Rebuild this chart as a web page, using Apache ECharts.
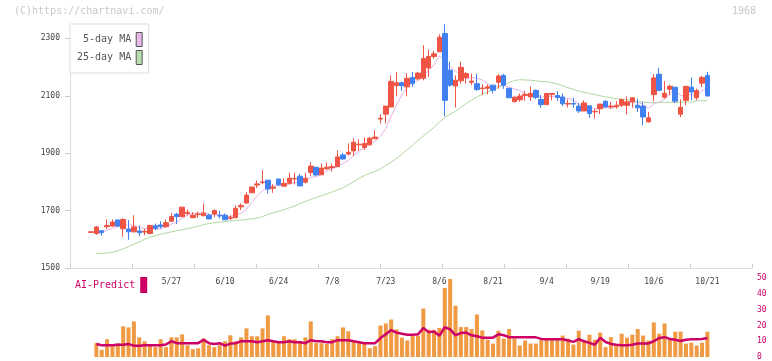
<!DOCTYPE html>
<html><head><meta charset="utf-8">
<script src="https://cdn.jsdelivr.net/npm/echarts@6/dist/echarts.min.js"></script>
<style>html,body{margin:0;padding:0;background:#fff}#c{width:772px;height:361px}</style>
</head><body><div id="c"></div>
<script>
const dates = ['5/2','5/7','5/8','5/9','5/12','5/13','5/14','5/15','5/16','5/19','5/20','5/21','5/22','5/23','5/26',
'5/27','5/28','5/29','5/30','6/2','6/3','6/4','6/5','6/6','6/9','6/10','6/11','6/12','6/13','6/16','6/17','6/18','6/19','6/20','6/23',
'6/24','6/25','6/26','6/27','6/30','7/1','7/2','7/3','7/4','7/7','7/8','7/9','7/10','7/11','7/14','7/15','7/16','7/17','7/18','7/22',
'7/23','7/24','7/25','7/28','7/29','7/30','7/31','8/1','8/4','8/5','8/6','8/7','8/8','8/12','8/13','8/14','8/15','8/18','8/19','8/20',
'8/21','8/22','8/25','8/26','8/27','8/28','8/29','9/1','9/2','9/3','9/4','9/5','9/8','9/9','9/10','9/11','9/12','9/16','9/17','9/18',
'9/19','9/22','9/24','9/25','9/26','9/29','9/30','10/1','10/2','10/3','10/6','10/7','10/8','10/9','10/10','10/14','10/15','10/16','10/17','10/20','10/21'];
const opens = [1624,1620,1630,1644,1646,1667,1637,1636,1626,1629,1625,1620,1647,1650,1644,1663,1687,1679,1690,1675,1686,1682,1684,1688,1683,1684,1673,1675,1713,1726,
1762,1789,1798,1806,1778,1810,1785,1795,1810,1820,1799,1833,1851,1825,1846,1850,1853,1894,1897,1908,1929,1920,1929,1950,2019,2036,2061,2135,2145,2131,
2164,2159,2161,2197,2237,2253,2317,2189,2134,2152,2163,2147,2142,2125,2126,2137,2147,2171,2126,2079,2086,2101,2096,2119,2087,2069,2104,2101,2096,2071,
2073,2064,2047,2065,2044,2055,2081,2061,2062,2067,2067,2079,2067,2064,2009,2104,2175,2095,2123,2130,2036,2084,2130,2093,2144,2171];
const closes = [1626,1643,1623,1648,1660,1646,1669,1626,1643,1623,1628,1648,1638,1644,1658,1679,1679,1712,1694,1684,1688,1691,1671,1700,1681,1668,1677,1708,1718,1754,
1782,1793,1800,1775,1782,1790,1795,1813,1812,1786,1813,1855,1824,1848,1851,1853,1887,1880,1903,1938,1931,1934,1952,1956,2022,2064,2150,2145,2135,2161,
2142,2179,2230,2237,2246,2304,2084,2137,2154,2199,2177,2151,2122,2127,2131,2119,2169,2137,2093,2095,2099,2105,2108,2094,2069,2108,2108,2094,2072,2073,
2071,2047,2075,2038,2046,2071,2061,2064,2067,2087,2079,2093,2058,2026,2023,2162,2119,2109,2133,2081,2060,2133,2113,2118,2164,2099];
const lows = [1622,1616,1612,1636,1644,1644,1609,1598,1624,1611,1614,1618,1632,1637,1641,1661,1653,1678,1683,1675,1675,1682,1670,1677,1672,1668,1667,1675,1702,1726,
1762,1778,1792,1760,1762,1785,1783,1792,1791,1786,1795,1821,1821,1825,1841,1836,1853,1876,1892,1890,1908,1911,1927,1950,2003,2003,2061,2098,2117,2098,
2131,2154,2154,2166,2229,2253,2029,2131,2059,2142,2142,2137,2117,2102,2105,2108,2125,2124,2093,2079,2079,2082,2082,2089,2058,2068,2084,2082,2064,2059,
2058,2040,2047,2023,2021,2036,2059,2055,2055,2061,2035,2058,2044,1997,2007,2081,2116,2090,2102,2075,2026,2067,2084,2084,2130,2099];
const highs = [1628,1646,1632,1669,1669,1669,1674,1667,1684,1648,1637,1651,1655,1663,1669,1692,1692,1712,1704,1695,1696,1724,1689,1704,1699,1690,1684,1718,1725,1764,
1782,1805,1841,1806,1792,1810,1812,1832,1832,1828,1832,1870,1851,1864,1868,1864,1910,1901,1934,1952,1948,1955,1957,1980,2036,2064,2171,2182,2150,2179,
2182,2182,2276,2261,2257,2314,2349,2219,2171,2219,2183,2177,2177,2140,2140,2137,2175,2177,2126,2098,2108,2117,2133,2122,2103,2108,2110,2116,2108,2087,
2093,2075,2084,2065,2055,2071,2084,2079,2081,2090,2098,2095,2090,2079,2044,2176,2197,2151,2139,2130,2088,2133,2164,2125,2169,2183];
const ma5 = [null,1618,1625,1631,1638,1644,1649,1650,1649,1641,1638,1634,1636,1636,1643,1653,1660,1674,1684,1690,1691,1694,1686,1687,1686,1682,1679,1687,1690,1705,
1728,1751,1769,1781,1786,1788,1788,1791,1798,1799,1804,1816,1818,1825,1838,1846,1853,1864,1875,1892,1908,1917,1932,1942,1959,1986,2029,2067,2103,2131,
2147,2152,2169,2190,2207,2239,2220,2202,2185,2176,2158,2164,2161,2155,2142,2130,2134,2137,2130,2123,2119,2106,2100,2100,2095,2097,2097,2095,2090,2091,
2084,2071,2068,2061,2055,2055,2058,2056,2062,2070,2072,2078,2077,2069,2056,2072,2078,2088,2109,2121,2100,2103,2104,2101,2118,2125];
const ma25 = [null,1551,1551,1552,1555,1560,1567,1574,1583,1591,1600,1607,1612,1618,1622,1626,1630,1633,1637,1641,1646,1651,1655,1658,1660,1662,1664,1666,1667,1669,
1671,1674,1679,1687,1692,1698,1703,1710,1716,1725,1732,1739,1746,1752,1758,1765,1772,1779,1790,1800,1812,1822,1830,1836,1845,1857,1868,1882,1897,1912,
1928,1945,1960,1975,1990,2008,2024,2036,2046,2060,2073,2085,2096,2105,2113,2121,2129,2137,2146,2153,2156,2155,2154,2152,2150,2149,2146,2141,2135,2128,
2122,2116,2112,2108,2104,2100,2096,2093,2090,2088,2086,2083,2080,2078,2076,2076,2077,2077,2077,2077,2077,2078,2078,2082,2083,2083];
const volume = [null,8.8,4.6,11.3,7.5,8.8,19.5,18.8,22.6,12.5,10,7.5,6.3,11.3,6.3,12.5,12.5,14.4,7.5,5,5.6,11.9,7.5,6.3,7.5,10,13.8,10,12.5,18.2,
13.2,13.2,18.2,26.4,10,10,13.2,11.3,11.3,10,12.5,22.6,8.8,8.8,8.2,11.3,13.2,18.8,16.3,10.7,8.8,8.8,5.6,6.9,20,21.3,23.8,17.5,12.3,10.5,
13.6,13.6,30.8,17.3,17,18.5,43.9,49.6,32.6,19,19,17.8,27,16.9,11,8.5,16.7,11.7,17.8,11.7,7.3,10.5,8.5,8.5,11,11.7,11.7,11,13.6,11.7,
7.9,16.7,10.5,14.2,11,15.5,6.3,12.6,7.9,14.8,12.3,14.2,17.8,13.6,10.5,22,14.8,21.3,11.7,16.1,16.1,8.5,9.1,7.3,9.1,16.1];
const aiPredict = [null,8.2,7.5,7.5,7.5,7.8,7.8,8.2,7.2,7.2,7.5,7.5,7.5,7.5,8,10,8.8,8.8,8.8,8.8,8.8,11,8.8,8.2,8.8,7.2,8.5,8.8,10,10,
10,9.4,10,10.7,10,9.4,9.4,10,9.4,9.4,8.8,10.7,10,10,9.4,9.4,10.7,10.7,10.7,10,9.4,8.8,8.8,8.8,12,14.5,17.1,15.5,14.8,14.2,
14.2,14.4,18.4,15.8,16.2,13.5,18.9,17.5,13.8,15.2,15.5,13.8,13.2,12.3,12.3,12.3,14.4,13.8,12.6,12.6,12.5,12.5,12.5,12.5,11.5,11.3,11.3,11.3,11.3,10.5,
9.6,11.3,10,9,7.8,12.3,9.5,8.3,7.8,7.5,7.5,7.8,8.6,8.6,8.6,10,12.1,12.6,11.5,11,10.2,11,11.3,11.3,11.5,12.1];
const priceTicks = [1500,1700,1900,2100,2300];
const labelIdx = [15,25,35,45,55,65,75,85,95,105,115];

const FONT = 'DejaVu Sans Mono';
const pairs = arr => arr.map((v, i) => [i, v]).filter(p => p[1] !== null);
const candles = dates.map((d, i) => [i, opens[i], closes[i], lows[i], highs[i]]);
const X_MIN = -3.92, X_MAX = 123.32;

const chart = echarts.init(document.getElementById('c'), null, {renderer: 'canvas'});
chart.setOption({
  animation: false,
  backgroundColor: '#fff',
  title: [
    {text: '(C)https://chartnavi.com/', left: 14, top: 6, padding: 0,
     textStyle: {fontFamily: FONT, fontSize: 10, fontWeight: 'normal', color: '#c8c8c8'}},
    {text: '1968', right: 16, top: 6, padding: 0,
     textStyle: {fontFamily: FONT, fontSize: 10, fontWeight: 'normal', color: '#c8c8c8'}}
  ],
  legend: [
    {orient: 'vertical', left: 70, top: 24, align: 'right', icon: 'rect',
     itemWidth: 6, itemHeight: 14, itemGap: 3, padding: [8, 6, 8, 7],
     backgroundColor: '#fff', borderColor: '#ddd', borderWidth: 1, selectedMode: false,
     formatter: n => n.padStart(9, ' '),
     textStyle: {fontFamily: FONT, fontSize: 10, color: '#555'},
     data: [
       {name: '5-day MA', itemStyle: {color: '#e8b8e8', borderColor: '#555', borderWidth: 1}},
       {name: '25-day MA', itemStyle: {color: '#b8dcb0', borderColor: '#555', borderWidth: 1}}
     ]},
    {orient: 'horizontal', left: 75, top: 277, align: 'right', icon: 'rect',
     itemWidth: 7, itemHeight: 16, padding: 0, selectedMode: false,
     textStyle: {fontFamily: FONT, fontSize: 10, color: '#cc0066'},
     data: [{name: 'AI-Predict', itemStyle: {color: '#cc0066'}}]}
  ],
  grid: [
    {left: 70, right: 20, top: 24, bottom: 93},
    {left: 70, right: 20, top: 278.3, bottom: 3}
  ],
  xAxis: [
    {gridIndex: 0, type: 'value', min: X_MIN, max: X_MAX, position: 'top', show: false},
    {gridIndex: 0, type: 'value', min: 0, max: 11, interval: 1, position: 'bottom',
     axisLine: {onZero: false, lineStyle: {color: '#ddd', width: 1}},
     axisTick: {show: true, inside: true, length: 4, lineStyle: {color: '#ccc'}},
     axisLabel: {show: false}, splitLine: {show: false}},
    {gridIndex: 1, type: 'value', min: X_MIN, max: X_MAX, position: 'top', offset: -10,
     axisLine: {show: false, onZero: false}, axisTick: {show: false}, splitLine: {show: false},
     axisLabel: {show: true, customValues: labelIdx, margin: 2, formatter: v => dates[Math.round(v)] || '',
       fontFamily: FONT, fontSize: 8, color: '#444', showMinLabel: true, showMaxLabel: true}}
  ],
  yAxis: [
    {gridIndex: 0, type: 'value', min: 1500, max: 2350, position: 'left',
     axisLine: {show: true, onZero: false, lineStyle: {color: '#ddd', width: 1}},
     axisTick: {show: true, length: 5, customValues: priceTicks, lineStyle: {color: '#ccc'}},
     axisLabel: {customValues: priceTicks, margin: 10, formatter: v => String(v),
       fontFamily: FONT, fontSize: 8, color: '#444'},
     splitLine: {show: false}},
    {gridIndex: 1, type: 'value', min: 0, max: 50, interval: 10, position: 'right',
     axisLine: {show: false, onZero: false}, axisTick: {show: false}, splitLine: {show: false},
     axisLabel: {margin: 5, formatter: v => String(v), fontFamily: FONT, fontSize: 8, color: '#cc0066'}}
  ],
  series: [
    {name: '5-day MA', type: 'line', xAxisIndex: 0, yAxisIndex: 0, data: pairs(ma5),
     showSymbol: false, lineStyle: {color: '#e6b0e6', width: 1}, itemStyle: {color: '#e6b0e6'}, z: 1},
    {name: '25-day MA', type: 'line', xAxisIndex: 0, yAxisIndex: 0, data: pairs(ma25),
     showSymbol: false, lineStyle: {color: '#b0d8a0', width: 1}, itemStyle: {color: '#b0d8a0'}, z: 1},
    {name: 'price', type: 'candlestick', xAxisIndex: 0, yAxisIndex: 0, data: candles, barWidth: 5, z: 2,
     itemStyle: {color: '#f05444', color0: '#4080f0', borderColor: '#f05444', borderColor0: '#4080f0', borderWidth: 1}},
    {name: 'volume', type: 'bar', xAxisIndex: 2, yAxisIndex: 1, data: pairs(volume), barWidth: 4,
     itemStyle: {color: '#f09a44'}},
    {name: 'AI-Predict', type: 'line', xAxisIndex: 2, yAxisIndex: 1, data: pairs(aiPredict),
     showSymbol: false, lineStyle: {color: '#cc0066', width: 2.5}, itemStyle: {color: '#cc0066'}, z: 3}
  ]
});
</script></body></html>
